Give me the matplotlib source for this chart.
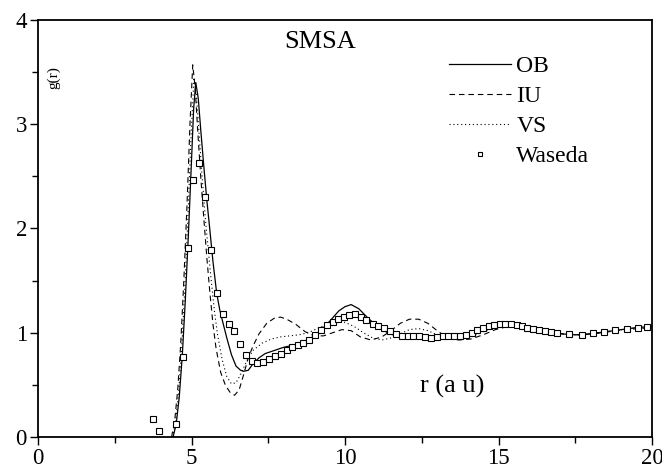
import matplotlib
matplotlib.use("Agg")
import matplotlib.pyplot as plt
from matplotlib.ticker import MultipleLocator

plt.rcParams["font.family"] = ["Liberation Serif", "DejaVu Serif"]

# OB (solid)
ob_r = [4.40, 4.50, 4.60, 4.70, 4.80, 4.90, 5.00, 5.07, 5.14, 5.22, 5.30, 5.40,
        5.50, 5.60, 5.70, 5.82, 5.92, 6.02, 6.15, 6.30, 6.45, 6.60, 6.70, 6.85,
        7.00, 7.20, 7.40, 7.60, 7.80, 8.00, 8.30, 8.60, 8.90, 9.20, 9.50, 9.80,
        10.00, 10.20, 10.45, 10.75, 11.10, 11.45, 11.80, 12.20, 12.60, 13.00,
        13.40, 13.80, 14.20, 14.60, 15.00, 15.30, 15.60, 16.00, 16.50, 17.00,
        17.50, 18.00, 18.50, 19.00, 19.50, 20.00]
ob_g = [0.00, 0.12, 0.38, 0.78, 1.32, 1.95, 2.65, 3.15, 3.40, 3.25, 2.95, 2.60,
        2.27, 1.98, 1.68, 1.38, 1.22, 1.10, 0.95, 0.79, 0.68, 0.64, 0.63, 0.64,
        0.70, 0.76, 0.80, 0.82, 0.84, 0.86, 0.88, 0.91, 0.95, 1.02, 1.11, 1.21,
        1.25, 1.27, 1.23, 1.14, 1.05, 0.99, 0.96, 0.95, 0.95, 0.95,
        0.96, 0.98, 1.01, 1.05, 1.08, 1.09, 1.08, 1.05, 1.02, 0.99,
        0.98, 0.99, 1.01, 1.03, 1.05, 1.06]

# IU (dashed)
iu_r = [4.35, 4.45, 4.55, 4.65, 4.75, 4.85, 4.95, 5.04, 5.12, 5.20, 5.30, 5.40,
        5.50, 5.60, 5.70, 5.80, 5.95, 6.10, 6.25, 6.40, 6.55, 6.70, 6.85, 7.00,
        7.20, 7.45, 7.70, 7.90, 8.10, 8.40, 8.70, 9.00, 9.30, 9.60, 9.90, 10.20,
        10.50, 10.85, 11.20, 11.50, 11.80, 12.10, 12.40, 12.70, 13.00, 13.30,
        13.70, 14.10, 14.50, 14.90, 15.30, 15.70, 16.10, 16.60, 17.10, 17.60,
        18.10, 18.60, 19.10, 19.60, 20.00]
iu_g = [0.00, 0.15, 0.45, 0.90, 1.50, 2.20, 3.00, 3.57, 3.35, 2.95, 2.50, 2.10,
        1.72, 1.38, 1.08, 0.85, 0.62, 0.50, 0.43, 0.40, 0.45, 0.60, 0.76, 0.87,
        0.99, 1.09, 1.14, 1.15, 1.13, 1.08, 1.01, 0.97, 0.97, 1.00, 1.03, 1.02,
        0.96, 0.93, 0.96, 1.02, 1.09, 1.13, 1.13, 1.09, 1.02, 0.96,
        0.93, 0.94, 0.98, 1.03, 1.06, 1.06, 1.04, 1.01, 0.99, 0.98,
        0.99, 1.01, 1.03, 1.04, 1.05]

# VS (dotted)
vs_r = [4.38, 4.48, 4.58, 4.68, 4.78, 4.88, 4.98, 5.08, 5.16, 5.25, 5.35, 5.45,
        5.55, 5.65, 5.75, 5.85, 6.00, 6.15, 6.30, 6.45, 6.60, 6.80, 7.00, 7.30,
        7.60, 7.90, 8.20, 8.50, 8.80, 9.10, 9.40, 9.70, 10.00, 10.30, 10.60,
        10.90, 11.20, 11.50, 11.80, 12.10, 12.40, 12.70, 13.00, 13.40, 13.80,
        14.20, 14.60, 15.00, 15.40, 15.80, 16.30, 16.80, 17.30, 17.80, 18.30,
        18.80, 19.30, 20.00]
vs_g = [0.00, 0.14, 0.42, 0.85, 1.42, 2.08, 2.85, 3.45, 3.28, 2.90, 2.48, 2.10,
        1.78, 1.48, 1.20, 0.98, 0.74, 0.58, 0.51, 0.52, 0.60, 0.73, 0.83, 0.90,
        0.94, 0.96, 0.97, 0.98, 1.00, 1.04, 1.08, 1.10, 1.10, 1.06, 1.00,
        0.95, 0.93, 0.95, 0.99, 1.03, 1.04, 1.02, 0.98, 0.95, 0.95,
        0.98, 1.02, 1.06, 1.07, 1.06, 1.03, 1.00, 0.98, 0.98, 1.00,
        1.02, 1.04, 1.05]

# Waseda (experiment)
wa_r = [3.76, 3.95, 4.50, 4.71, 4.87, 5.06, 5.23, 5.43, 5.65, 5.82, 6.02, 6.22,
        6.39, 6.59, 6.78, 6.97, 7.14, 7.32, 7.52, 7.72, 7.90, 8.10, 8.28, 8.46,
        8.64, 8.83, 9.02, 9.21, 9.40, 9.60, 9.78, 9.97, 10.14, 10.33, 10.51,
        10.68, 10.90, 11.09, 11.27, 11.47, 11.65, 11.85, 12.04, 12.23, 12.41,
        12.61, 12.79, 12.99, 13.18, 13.37, 13.56, 13.75, 13.93, 14.13, 14.31,
        14.49, 14.68, 14.86, 15.05, 15.21, 15.40, 15.59, 15.76, 15.92, 16.13,
        16.33, 16.51, 16.70, 16.92, 17.31, 17.71, 18.07, 18.44, 18.79, 19.18,
        19.55, 19.85]
wa_g = [0.17, 0.06, 0.12, 0.77, 1.81, 2.47, 2.63, 2.30, 1.79, 1.38, 1.18, 1.08,
        1.02, 0.89, 0.79, 0.73, 0.71, 0.72, 0.745, 0.78, 0.80, 0.835, 0.865, 0.88,
        0.905, 0.93, 0.98, 1.03, 1.07, 1.10, 1.13, 1.15, 1.17, 1.18, 1.155,
        1.12, 1.08, 1.065, 1.05, 1.02, 0.99, 0.97, 0.97, 0.97, 0.97,
        0.955, 0.95, 0.955, 0.97, 0.97, 0.97, 0.97, 0.98, 1.00, 1.03,
        1.045, 1.062, 1.074, 1.084, 1.084, 1.08, 1.07, 1.06, 1.045, 1.036,
        1.026, 1.02, 1.01, 1.00, 0.99, 0.98, 0.995, 1.007, 1.026, 1.04,
        1.05, 1.058]

fig = plt.figure(figsize=(6.62, 4.72), dpi=100)
ax = fig.add_axes([0.0574, 0.0742, 0.9275, 0.8834])

ax.plot(ob_r, ob_g, color="black", linewidth=0.9, label="OB")
ax.plot(iu_r, iu_g, color="black", linewidth=0.8, linestyle=(0, (5, 3.5)), label="IU")
ax.plot(vs_r, vs_g, color="black", linewidth=0.8, linestyle=(0, (1, 2.5)), label="VS")
ax.plot(wa_r, wa_g, linestyle="none", marker="s", markersize=4.2,
        markerfacecolor="white", markeredgecolor="black", markeredgewidth=0.8,
        label="Waseda")

ax.set_xlim(0, 20)
ax.set_ylim(0, 4)
ax.xaxis.set_major_locator(MultipleLocator(5))
ax.xaxis.set_minor_locator(MultipleLocator(2.5))
ax.yaxis.set_major_locator(MultipleLocator(1))
ax.yaxis.set_minor_locator(MultipleLocator(0.5))
ax.tick_params(which="both", direction="out", top=False, right=False,
               width=1.0, labelsize=16.5)
ax.tick_params(which="major", length=6, pad=2)
ax.tick_params(which="minor", length=4)
for s in ax.spines.values():
    s.set_linewidth(1.3)

ax.text(9.2, 3.79, "SMSA", fontsize=19, ha="center", va="center")
ax.text(13.5, 0.48, "r (a u)", fontsize=19, ha="center", va="center")
ax.text(0.52, 3.45, "g(r)", fontsize=11, rotation=90, ha="center", va="center")

leg = ax.legend(loc="upper left", bbox_to_anchor=(0.67, 0.915), frameon=False,
                fontsize=17, handlelength=2.63, handletextpad=0.21, labelspacing=0.36,
                borderaxespad=0, borderpad=0, numpoints=1)
leg.legend_handles[3].set_markersize(3.5)

fig.savefig("out.png", dpi=100, facecolor="white")
